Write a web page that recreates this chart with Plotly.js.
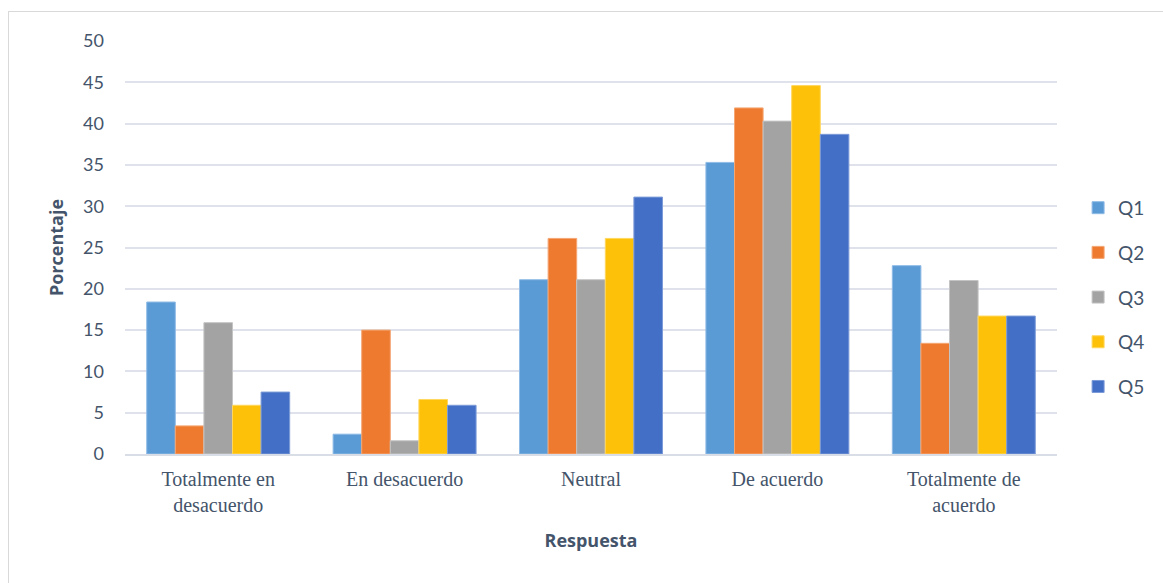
<!DOCTYPE html>
<html>
<head>
<meta charset="utf-8">
<script src="https://cdn.plot.ly/plotly-3.0.1.min.js"></script>
<style>
  html, body { margin: 0; padding: 0; background: #ffffff; overflow: hidden; }
  #frame { position: absolute; left: 8px; top: 11px; width: 1200px; height: 640px; border: 1px solid #d9d9d9; box-sizing: border-box; }
  #chart { position: absolute; left: 0; top: 0; width: 1163px; height: 583px; }
</style>
</head>
<body>
<div id="frame"></div>
<div id="chart"></div>
<script>
const categories = ["Totalmente en<br>desacuerdo", "En desacuerdo", "Neutral", "De acuerdo", "Totalmente de<br>acuerdo"];
const seriesNames = ["Q1", "Q2", "Q3", "Q4", "Q5"];
const q1 = [18.4, 2.4, 21.1, 35.3, 22.8];
const q2 = [3.4, 15.0, 26.1, 41.9, 13.4];
const q3 = [15.9, 1.6, 21.1, 40.3, 21.0];
const q4 = [5.9, 6.6, 26.1, 44.6, 16.7];
const q5 = [7.5, 5.9, 31.1, 38.7, 16.7];
const seriesValues = [q1, q2, q3, q4, q5];
const fillColors = ["#5b9bd5", "#ee7a30", "#a3a3a3", "#fdc10a", "#4370c6"];
const lineColors = ["#8fbbe6", "#f4a673", "#c4c4c4", "#ffd75e", "#7d9bd8"];

const textColor = "#44546a";
const traces = seriesValues.map((vals, i) => ({
  type: "bar",
  name: seriesNames[i],
  x: categories,
  y: vals,
  legendgroup: "g" + i,
  marker: { color: fillColors[i], line: { color: lineColors[i], width: 1 } },
  hoverinfo: "x+y+name"
}));

const layout = {
  width: 1163,
  height: 583,
  paper_bgcolor: "rgba(0,0,0,0)",
  plot_bgcolor: "rgba(0,0,0,0)",
  margin: { l: 125, r: 106, t: 41, b: 129 },
  barmode: "group",
  bargap: 0.233,
  bargroupgap: 0,
  showlegend: true,
  legend: {
    xref: "container", yref: "container",
    x: 0.927, xanchor: "left", y: 0.49, yanchor: "middle",
    tracegroupgap: 17,
    font: { family: "Lato, 'Liberation Sans', sans-serif", size: 19, color: textColor },
    bgcolor: "rgba(0,0,0,0)"
  },
  xaxis: {
    type: "category",
    showgrid: false,
    zeroline: false,
    showline: true,
    linecolor: "#d9dde6",
    linewidth: 1.5,
    ticks: "outside",
    ticklen: 6,
    tickcolor: "rgba(0,0,0,0)",
    tickfont: { family: "'Liberation Serif', 'Times New Roman', serif", size: 20, color: textColor },
    title: { text: "Respuesta", standoff: 20, font: { family: "'Open Sans', 'Liberation Sans', sans-serif", size: 18, color: textColor, weight: "bold" } }
  },
  yaxis: {
    range: [0, 50],
    tickmode: "linear",
    tick0: 0,
    dtick: 5,
    showgrid: true,
    gridcolor: "#dfe2ea",
    gridwidth: 1.5,
    zeroline: false,
    showline: false,
    ticks: "",
    ticklabelstandoff: 20,
    tickfont: { family: "Lato, 'Liberation Sans', sans-serif", size: 18, color: textColor },
    title: { text: "Porcentaje", standoff: 14, font: { family: "'Open Sans', 'Liberation Sans', sans-serif", size: 18, color: textColor, weight: "bold" } }
  },
  font: { color: textColor }
};

Plotly.newPlot("chart", traces, layout, { displayModeBar: false, staticPlot: false });
</script>
</body>
</html>
